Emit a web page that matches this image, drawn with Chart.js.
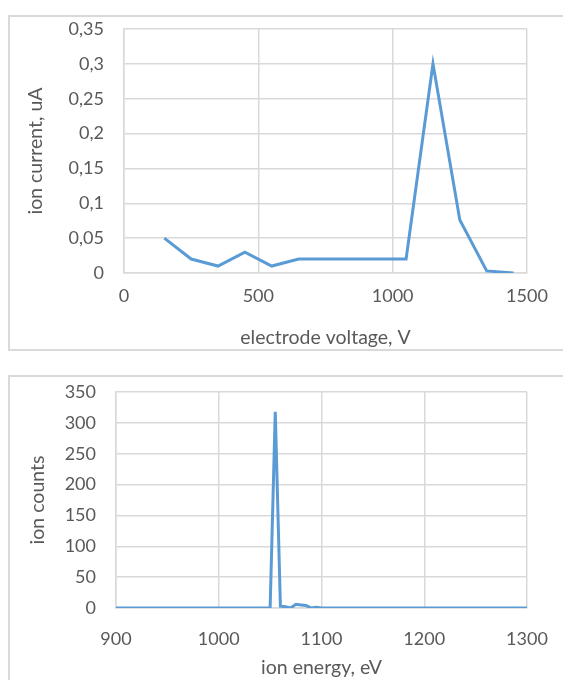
<!DOCTYPE html>
<html>
<head>
<meta charset="utf-8">
<script src="https://cdn.jsdelivr.net/npm/chart.js@4"></script>
<style>
    body { margin: 0; background: #fff; width: 563px; height: 680px; overflow: hidden; position: relative; }
    .box { position: absolute; border: 2px solid #d9d9d9; background: #fff; }
    #box1 { left: 8px; top: 15px; width: 570px; height: 332px; }
    #box2 { left: 8px; top: 375px; width: 570px; height: 330px; }
    canvas { position: absolute; left: 0; top: 0; }
</style>
</head>
<body>
<div class="box" id="box1"><canvas id="currentChart" width="552" height="332"></canvas></div>
<div class="box" id="box2"><canvas id="countsChart" width="552" height="322"></canvas></div>
<script>
// electrode voltage scan (V) vs ion current (uA)
const voltage = [150, 250, 350, 450, 550, 650, 750, 850, 950, 1050, 1150, 1250, 1350, 1450];
const ionCurrent = [0.05, 0.02, 0.01, 0.03, 0.01, 0.02, 0.02, 0.02, 0.02, 0.02, 0.3, 0.076, 0.003, 0];

// ion energy spectrum (eV) vs counts
const energy = [900, 1050, 1055, 1060, 1065, 1070, 1075, 1080, 1085, 1090, 1095, 1100, 1300];
const ionCounts = [0, 0, 318, 3, 2, 0, 6, 5, 4, 0, 1, 0, 0];

const blue = '#5b9bd5';
const gridColor = '#d9d9d9';
const textColor = '#595959';
const fontFamily = 'Lato, "Open Sans", sans-serif';

function toPoints(xs, ys) {
    return xs.map((x, i) => ({ x: x, y: ys[i] }));
}

function makeChart(id, cfg) {
    const ctx = document.getElementById(id).getContext('2d');
    return new Chart(ctx, {
        type: 'line',
        data: {
            datasets: [{
                data: toPoints(cfg.xs, cfg.ys),
                borderColor: blue,
                borderWidth: 3,
                pointRadius: 0,
                tension: 0,
                fill: false
            }]
        },
        options: {
            responsive: false,
            animation: false,
            layout: { padding: cfg.padding },
            plugins: { legend: { display: false }, tooltip: { enabled: false } },
            scales: {
                x: {
                    type: 'linear',
                    min: cfg.xMin, max: cfg.xMax,
                    grid: { color: gridColor, lineWidth: 1.5, drawTicks: false },
                    border: { color: gridColor, width: 1.5 },
                    ticks: { stepSize: cfg.xStep, color: textColor, padding: cfg.xTickPad, font: { family: fontFamily, size: cfg.tickSize }, callback: v => String(v) },
                    title: { display: true, text: cfg.xTitle, color: textColor, font: { family: fontFamily, size: cfg.titleSize }, padding: { top: 0, bottom: cfg.xTitlePad } },
                    afterFit: s => { s.height = cfg.xHeight; s.paddingLeft = 0; s.paddingRight = 0; }
                },
                y: {
                    min: 0, max: cfg.yMax,
                    grid: { color: gridColor, lineWidth: 1.5, drawTicks: false },
                    border: { color: gridColor, width: 1.5 },
                    ticks: { stepSize: cfg.yStep, color: textColor, padding: cfg.yTickPad, font: { family: fontFamily, size: cfg.tickSize }, callback: cfg.yFormat },
                    title: { display: true, text: cfg.yTitle, color: textColor, font: { family: fontFamily, size: cfg.titleSize }, padding: { top: cfg.yTitlePad, bottom: 0 } },
                    // tick padding would otherwise be added above the plot
                    afterFit: s => { s.width = cfg.yWidth; s.paddingTop = 0; s.paddingBottom = 0; }
                }
            }
        }
    });
}

makeChart('currentChart', {
    xs: voltage, ys: ionCurrent,
    xMin: 0, xMax: 1500, xStep: 500,
    yMax: 0.35, yStep: 0.05,
    yFormat: v => String(Math.round(v * 100) / 100).replace('.', ','),
    xTitle: 'electrode voltage, V', yTitle: 'ion current, uA',
    tickSize: 18, titleSize: 19.5,
    padding: { left: 0, top: 12, right: 35, bottom: 0 },
    xHeight: 76, yWidth: 114,
    xTickPad: 12, yTickPad: 20, xTitlePad: 0, yTitlePad: 14
});

makeChart('countsChart', {
    xs: energy, ys: ionCounts,
    xMin: 900, xMax: 1300, xStep: 100,
    yMax: 350, yStep: 50,
    yFormat: v => String(v),
    xTitle: 'ion energy, eV', yTitle: 'ion counts',
    tickSize: 18, titleSize: 19.5,
    padding: { left: 0, top: 15, right: 35, bottom: 0 },
    xHeight: 91, yWidth: 106,
    xTickPad: 20, yTickPad: 20, xTitlePad: 20, yTitlePad: 16
});
</script>
</body>
</html>
